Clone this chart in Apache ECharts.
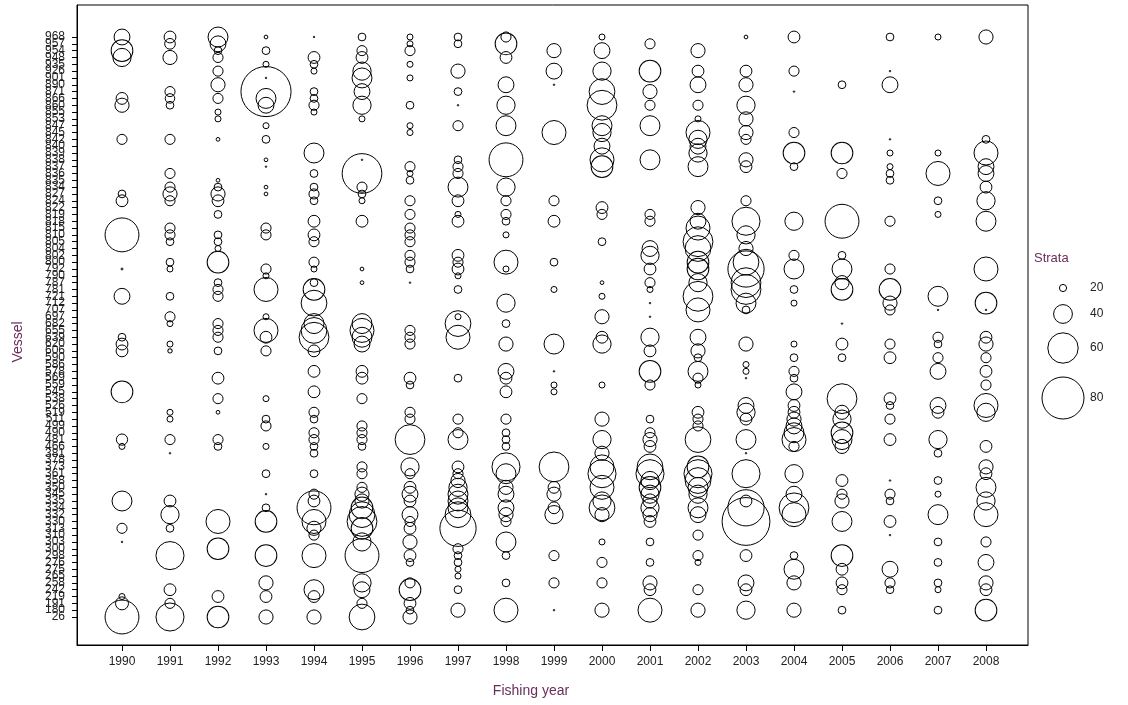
<!DOCTYPE html>
<html>
<head>
<meta charset="utf-8">
<script src="https://cdn.jsdelivr.net/npm/echarts@6/dist/echarts.min.js"></script>
<style>
html,body{margin:0;padding:0;background:#ffffff;}
#chart{width:1128px;height:705px;}
</style>
</head>
<body>
<div id="chart"></div>
<script>
// Fishing years shown along the horizontal axis
const years = [1990,1991,1992,1993,1994,1995,1996,1997,1998,1999,2000,2001,2002,2003,2004,2005,2006,2007,2008];

// Vessel identifiers, bottom to top
const vessels = [
  '26','180','191','219','242','258','265','275','276','298',
  '300','303','310','313','330','332','334','335','345','350',
  '358','361','373','378','381','466','481','490','499','511',
  '519','526','538','545','559','569','578','586','590','606',
  '620','639','655','682','697','707','712','721','781','787',
  '790','792','800','802','804','805','810','815','818','819',
  '822','824','827','834','835','836','837','838','839','840',
  '842','845','847','853','855','860','866','871','890','901',
  '926','935','948','954','957','968'
];

// Number of strata fished per vessel: [vessel index, strata]
const strata1990 = [[85,35],[83,45],[82,39],[76,28],[75,32],[70,25],[62,21],[61,28],[56,66],[51,11],[47,35],[41,21],[40,28],[39,28],[33,45],[26,27],[25,18],[17,42],[13,25],[11,10],[3,18],[2,30],[0,66]];
const strata1991 = [[85,28],[84,26],[82,32],[77,25],[76,24],[75,21],[70,25],[65,25],[63,25],[62,32],[61,25],[57,25],[56,25],[55,21],[52,21],[51,18],[47,21],[44,25],[43,18],[40,18],[39,15],[30,18],[29,18],[26,25],[24,10],[17,28],[15,39],[13,21],[9,56],[4,28],[2,25],[0,56]];
const strata1992 = [[85,42],[84,35],[83,21],[82,25],[80,25],[78,32],[76,25],[74,18],[73,18],[70,14],[64,14],[63,21],[62,32],[61,28],[59,21],[56,21],[55,21],[54,18],[52,45],[49,21],[48,25],[47,25],[43,25],[42,25],[41,25],[39,21],[35,28],[32,25],[30,14],[26,25],[25,21],[14,49],[10,45],[3,28],[0,45]];
const strata1993 = [[85,14],[83,21],[81,18],[79,10],[77,94],[76,42],[75,35],[72,18],[70,21],[67,14],[66,10],[63,14],[62,14],[57,25],[56,25],[51,25],[50,18],[48,49],[44,18],[42,49],[41,28],[39,25],[32,18],[29,21],[28,25],[25,18],[21,21],[18,10],[16,21],[14,45],[9,45],[5,32],[3,28],[0,32]];
const strata1994 = [[85,10],[82,28],[81,21],[80,18],[77,21],[76,21],[75,25],[74,18],[68,42],[65,21],[63,21],[62,25],[61,21],[58,28],[56,28],[55,25],[52,25],[51,18],[49,21],[48,45],[46,52],[43,42],[42,52],[41,59],[39,28],[36,28],[33,28],[30,25],[29,21],[27,25],[26,25],[25,21],[24,21],[21,21],[18,25],[17,28],[16,66],[14,49],[13,32],[12,25],[9,49],[4,42],[3,28],[0,32]];
const strata1995 = [[85,21],[83,25],[82,28],[80,39],[79,42],[77,35],[75,39],[73,18],[67,10],[65,76],[63,25],[62,21],[61,18],[58,28],[51,14],[49,14],[43,42],[42,49],[41,42],[40,35],[36,28],[35,28],[32,25],[28,25],[27,25],[26,25],[25,21],[22,25],[21,25],[19,25],[18,32],[17,32],[16,45],[15,52],[14,59],[13,45],[11,39],[9,66],[5,39],[4,35],[2,25],[0,52]];
const strata1996 = [[85,18],[84,18],[83,25],[81,18],[79,18],[75,21],[72,18],[71,18],[66,25],[65,18],[64,21],[61,25],[59,25],[57,25],[56,25],[55,25],[53,25],[52,25],[51,21],[49,10],[42,25],[41,25],[40,25],[35,28],[34,21],[30,25],[29,25],[26,59],[22,39],[21,25],[19,28],[18,35],[17,28],[15,35],[14,25],[13,28],[11,32],[9,28],[8,21],[5,25],[4,45],[2,28],[1,21],[0,32]];
const strata1997 = [[85,21],[84,21],[80,32],[77,21],[75,10],[72,25],[67,21],[66,25],[65,25],[63,42],[61,28],[59,18],[58,28],[53,28],[52,25],[51,28],[50,18],[48,21],[44,18],[43,52],[41,49],[35,21],[29,25],[27,25],[26,42],[22,28],[21,25],[20,32],[19,39],[18,42],[17,42],[16,42],[15,52],[13,70],[10,25],[9,21],[8,21],[7,18],[6,18],[4,21],[1,32]];
const strata1998 = [[85,25],[84,45],[82,28],[78,35],[75,39],[72,42],[67,66],[63,39],[61,25],[59,25],[58,21],[56,18],[52,49],[51,18],[46,39],[43,21],[40,32],[36,35],[35,28],[33,28],[29,25],[27,21],[26,21],[25,21],[22,56],[21,42],[19,32],[18,35],[16,35],[15,32],[14,25],[11,42],[9,21],[5,21],[1,49]];
const strata1999 = [[83,32],[80,35],[78,10],[71,49],[61,25],[58,28],[52,21],[48,18],[40,42],[36,10],[34,18],[33,18],[22,59],[19,28],[18,32],[16,28],[15,39],[9,25],[5,25],[1,10]];
const strata2000 = [[85,18],[83,35],[80,39],[77,52],[75,59],[72,42],[71,39],[69,35],[67,49],[66,45],[60,28],[59,25],[55,21],[49,14],[47,18],[44,32],[41,28],[40,39],[34,18],[29,32],[26,39],[24,32],[22,49],[21,56],[19,49],[17,39],[16,52],[15,32],[11,18],[8,25],[5,25],[1,32]];
const strata2001 = [[84,25],[80,45],[77,32],[75,25],[72,42],[67,42],[59,25],[58,25],[54,35],[53,39],[51,28],[49,25],[48,18],[46,10],[44,10],[41,39],[39,28],[36,45],[34,25],[29,21],[27,25],[26,32],[25,28],[22,52],[21,56],[20,39],[19,45],[18,39],[17,32],[16,39],[15,32],[14,28],[11,21],[8,21],[5,32],[4,28],[1,49]];
const strata2002 = [[83,32],[80,28],[78,35],[75,25],[73,18],[71,49],[70,39],[69,35],[68,39],[66,42],[60,32],[58,35],[57,49],[55,59],[54,52],[52,45],[51,45],[49,39],[47,59],[45,49],[41,35],[39,32],[38,21],[36,42],[35,25],[34,18],[30,28],[29,25],[28,25],[26,52],[22,45],[21,56],[20,52],[19,42],[18,39],[16,42],[15,35],[12,25],[9,25],[8,18],[4,25],[1,32]];
const strata2003 = [[85,14],[80,28],[78,32],[75,39],[73,32],[71,32],[70,25],[67,32],[66,28],[61,25],[58,56],[56,39],[54,32],[52,52],[51,70],[49,59],[48,59],[46,42],[45,21],[40,32],[37,18],[36,18],[35,10],[31,35],[30,39],[29,28],[26,42],[24,10],[21,56],[17,28],[16,70],[14,90],[9,28],[5,35],[4,28],[1,39]];
const strata2004 = [[85,28],[80,25],[77,10],[71,25],[68,45],[66,21],[58,39],[53,25],[51,42],[48,21],[46,18],[40,18],[38,21],[36,25],[35,21],[33,35],[31,28],[30,28],[29,32],[28,35],[27,42],[26,49],[25,25],[21,39],[18,35],[16,59],[15,49],[9,21],[7,42],[5,32],[1,32]];
const strata2005 = [[78,21],[68,45],[65,25],[58,66],[53,21],[51,42],[49,32],[48,45],[43,10],[40,28],[38,21],[32,59],[30,32],[29,39],[27,45],[26,42],[25,32],[20,28],[18,25],[17,32],[14,42],[9,45],[7,28],[5,28],[4,25],[1,21]];
const strata2006 = [[85,21],[80,10],[78,35],[70,10],[68,18],[66,18],[65,21],[64,21],[58,25],[51,25],[48,45],[46,32],[45,25],[40,25],[38,28],[32,28],[31,21],[29,25],[26,28],[20,10],[18,25],[17,21],[14,28],[12,10],[7,35],[5,25],[4,21]];
const strata2007 = [[85,18],[68,18],[65,49],[61,21],[59,18],[47,42],[45,10],[41,25],[40,21],[38,25],[36,35],[31,35],[30,28],[26,39],[24,21],[20,21],[18,18],[15,42],[11,21],[8,21],[5,21],[4,18],[1,21]];
const strata2008 = [[85,32],[70,21],[68,49],[66,35],[65,35],[63,28],[61,39],[58,42],[51,49],[46,45],[45,10],[41,28],[40,32],[38,25],[36,28],[34,25],[31,49],[30,39],[25,28],[22,32],[21,28],[19,42],[17,39],[15,49],[11,25],[8,35],[5,32],[4,28],[1,45]];

const strataByYear = [strata1990,strata1991,strata1992,strata1993,strata1994,strata1995,strata1996,strata1997,strata1998,strata1999,strata2000,strata2001,strata2002,strata2003,strata2004,strata2005,strata2006,strata2007,strata2008];

// Key values for the size legend
const legendValues = [20, 40, 60, 80];

// Circle diameter (px) for a strata count
function bubbleDiameter(v) {
  return Math.max(1.5, 0.58 * v - 4.4);
}

const points = [];
years.forEach(function (yr, i) {
  strataByYear[i].forEach(function (p) { points.push([yr, p[0], p[1]]); });
});

const vesselIdx = vessels.map(function (_, i) { return i; });
// Blank label slots just outside the vessel range keep every vessel label drawn
const vesselLabelSlots = [-3].concat(vesselIdx, [vessels.length + 2]);

const chart = echarts.init(document.getElementById('chart'), null, { renderer: 'canvas' });

const FONT = 'Liberation Sans, Arial, sans-serif';
const TICK_FONT = { fontFamily: FONT, fontSize: 12, color: '#222' };
const TITLE_COLOR = '#6b2d5b';

// Size legend drawn beside the plot, plus the axis titles
const legendY = [288, 314, 348, 398];
const extraGraphics = [{
  type: 'text', left: 1034, top: 252,
  style: { text: 'Strata', fontFamily: FONT, fontSize: 13, fill: TITLE_COLOR }
}];
legendValues.forEach(function (v, i) {
  extraGraphics.push({
    type: 'circle',
    shape: { cx: 1063, cy: legendY[i], r: bubbleDiameter(v) / 2 },
    style: { fill: 'none', stroke: '#000', lineWidth: 1 }
  });
  extraGraphics.push({
    type: 'text', x: 1090, y: legendY[i],
    style: { text: String(v), fontFamily: FONT, fontSize: 12, fill: '#222', textVerticalAlign: 'middle' }
  });
});
extraGraphics.push({
  type: 'text', x: 531, y: 691,
  style: { text: 'Fishing year', fontFamily: FONT, fontSize: 14, fill: TITLE_COLOR, textAlign: 'center', textVerticalAlign: 'middle' }
});
extraGraphics.push({
  type: 'text', x: 18, y: 342, rotation: Math.PI / 2,
  style: { text: 'Vessel', fontFamily: FONT, fontSize: 14, fill: TITLE_COLOR, textAlign: 'center', textVerticalAlign: 'middle' }
});

chart.setOption({
  animation: false,
  backgroundColor: '#ffffff',
  grid: { left: 77, right: 100, top: 5, bottom: 60, show: true, borderColor: '#000', borderWidth: 1, backgroundColor: 'transparent' },
  xAxis: {
    type: 'value',
    min: 1990 - 45 / 48,
    max: 2008 + 42 / 48,
    axisLine: { show: true, onZero: false, lineStyle: { color: '#000', width: 1 } },
    axisTick: { show: true, length: 6, inside: false, customValues: years, lineStyle: { color: '#000' } },
    axisLabel: { customValues: years, margin: 11, showMinLabel: true, showMaxLabel: true, formatter: function (v) { return String(Math.round(v)); }, ...TICK_FONT },
    splitLine: { show: false }
  },
  yAxis: {
    type: 'value',
    min: -28 / (580 / 85),
    max: 85 + 32 / (580 / 85),
    axisLine: { show: true, onZero: false, lineStyle: { color: '#000', width: 1 } },
    axisTick: { show: true, length: 5, inside: false, customValues: vesselIdx, lineStyle: { color: '#000' } },
    axisLabel: {
      customValues: vesselLabelSlots, margin: 12, hideOverlap: false,
      formatter: function (v) {
        const i = Math.round(v);
        return (i >= 0 && i < vessels.length) ? vessels[i] : '';
      },
      ...TICK_FONT
    },
    splitLine: { show: false }
  },
  series: [{
    type: 'scatter',
    data: points,
    symbol: 'circle',
    symbolSize: function (d) { return bubbleDiameter(d[2]); },
    itemStyle: { color: 'rgba(0,0,0,0)', borderColor: '#000', borderWidth: 1, opacity: 1 },
    emphasis: { disabled: true },
    silent: true
  }],
  graphic: extraGraphics
});
</script>
</body>
</html>
